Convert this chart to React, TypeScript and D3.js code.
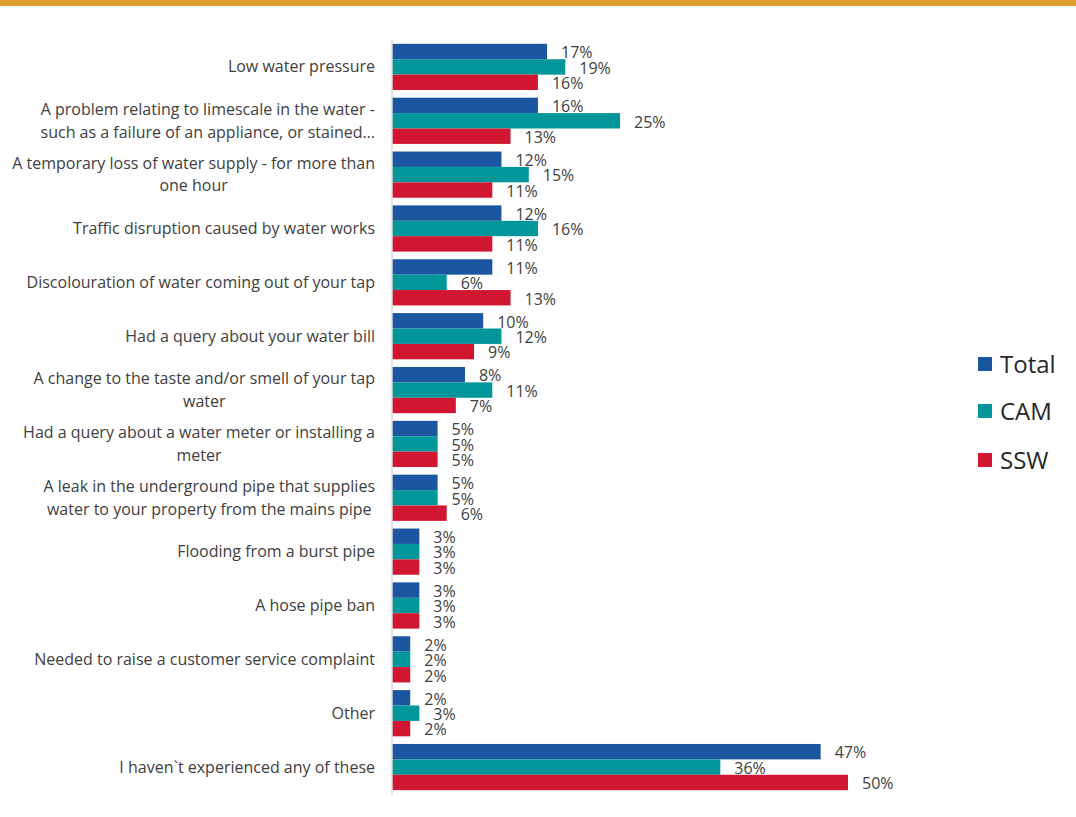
import React, { useEffect, useRef } from "react";
import * as d3 from "d3";

const categories: string[] = [
  "Low water pressure",
  "A problem relating to limescale in the water -\nsuch as a failure of an appliance, or stained…",
  "A temporary loss of water supply - for more than\none hour",
  "Traffic disruption caused by water works",
  "Discolouration of water coming out of your tap",
  "Had a query about your water bill",
  "A change to the taste and/or smell of your tap\nwater",
  "Had a query about a water meter or installing a\nmeter",
  "A leak in the underground pipe that supplies\nwater to your property from the mains pipe",
  "Flooding from a burst pipe",
  "A hose pipe ban",
  "Needed to raise a customer service complaint",
  "Other",
  "I haven`t experienced any of these",
];

const seriesNames: string[] = ["Total", "CAM", "SSW"];
const totalValues: number[] = [17, 16, 12, 12, 11, 10, 8, 5, 5, 3, 3, 2, 2, 47];
const camValues: number[] = [19, 25, 15, 16, 6, 12, 11, 5, 5, 3, 3, 2, 3, 36];
const sswValues: number[] = [16, 13, 11, 11, 13, 9, 7, 5, 6, 3, 3, 2, 2, 50];
const seriesColors: string[] = ["#1B56A0", "#00969A", "#D11632"];

const W = 1076;
const H = 817;
const FONT = "'Open Sans', 'Noto Sans', sans-serif";

export default function App() {
  const ref = useRef<SVGSVGElement | null>(null);

  useEffect(() => {
    const svg = d3.select(ref.current);
    svg.selectAll("*").remove();

    const values = [totalValues, camValues, sswValues];
    const x = d3.scaleLinear().domain([0, 50]).range([392, 848]);
    const y0 = d3
      .scaleBand<string>()
      .domain(categories)
      .range([40, 794])
      .paddingInner(0.142)
      .paddingOuter(0.071);
    const y1 = d3
      .scaleBand<string>()
      .domain(seriesNames)
      .range([0, y0.bandwidth()]);

    // top gold band
    svg.append("rect").attr("x", 0).attr("y", 0).attr("width", W).attr("height", 6).attr("fill", "#DFA02F");

    const g = svg.append("g");
    categories.forEach((cat, i) => {
      const gy = y0(cat)!;
      seriesNames.forEach((s, j) => {
        const v = values[j][i];
        g.append("rect")
          .attr("x", x(0))
          .attr("y", gy + y1(s)!)
          .attr("width", x(v) - x(0))
          .attr("height", y1.bandwidth())
          .attr("fill", seriesColors[j]);
        g.append("text")
          .attr("x", x(v) + 14)
          .attr("y", gy + y1(s)! + y1.bandwidth() / 2 + 2.5)
          .attr("dominant-baseline", "middle")
          .attr("font-family", FONT)
          .attr("font-size", 16)
          .attr("fill", "#404040")
          .text(`${v}%`);
      });
    });

    // axis line
    svg.append("line")
      .attr("x1", x(0)).attr("x2", x(0))
      .attr("y1", 40).attr("y2", 795)
      .attr("stroke", "#D9D9D9").attr("stroke-width", 1.5);

    // category labels
    const lab = svg.append("g");
    const lineH = 22.5;
    categories.forEach((cat) => {
      const lines = cat.split("\n");
      const cy = y0(cat)! + y0.bandwidth() / 2 + 1.5;
      const t = lab.append("text")
        .attr("font-family", FONT)
        .attr("font-size", 16)
        .attr("fill", "#404040")
        .attr("dominant-baseline", "middle");
      const tspans = lines.map((ln, k) =>
        t.append("tspan")
          .attr("x", 375)
          .attr("y", cy + (k - (lines.length - 1) / 2) * lineH)
          .text(ln)
      );
      if (lines.length === 1) {
        t.attr("text-anchor", "end");
      } else {
        const widths = tspans.map((ts) => (ts.node() as SVGTSpanElement).getComputedTextLength());
        const maxW = Math.max(...widths);
        t.attr("text-anchor", "middle");
        tspans.forEach((ts) => ts.attr("x", 375 - maxW / 2));
      }
    });

    // legend
    const leg = svg.append("g");
    const legY = [364, 411, 460];
    seriesNames.forEach((s, j) => {
      leg.append("rect")
        .attr("x", 978).attr("y", legY[j] - 7)
        .attr("width", 14).attr("height", 14)
        .attr("fill", seriesColors[j]);
      leg.append("text")
        .attr("x", 1000).attr("y", legY[j] + 2.5)
        .attr("dominant-baseline", "middle")
        .attr("font-family", FONT)
        .attr("font-size", 24)
        .attr("fill", "#262626")
        .text(s);
    });
  }, []);

  return (
    <svg
      ref={ref}
      width={W}
      height={H}
      style={{ position: "absolute", left: 0, top: 0, background: "#fff" }}
    />
  );
}
